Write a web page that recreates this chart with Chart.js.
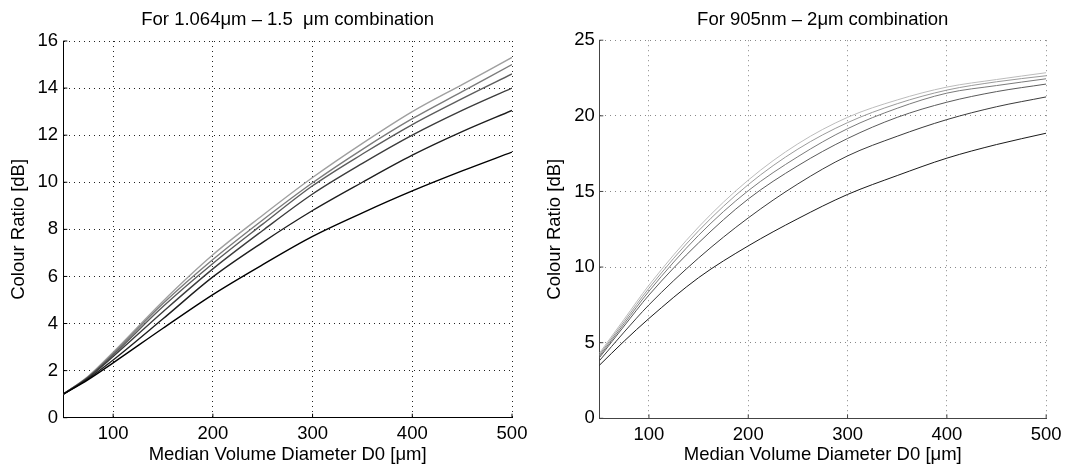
<!DOCTYPE html>
<html>
<head>
<meta charset="utf-8">
<script src="https://cdn.jsdelivr.net/npm/chart.js@4.4.1/dist/chart.umd.min.js"></script>
<style>
  html, body { margin: 0; padding: 0; background: #fff; }
  #wrap { position: relative; width: 1067px; height: 467px; overflow: hidden; }
  .box { position: absolute; top: 0; height: 467px; }
  #left-box { left: 0; width: 540px; }
  #right-box { left: 540px; width: 527px; }
</style>
</head>
<body>
<div id="wrap">
  <div class="box" id="left-box"><canvas id="ratio_1064" width="540" height="467"></canvas></div>
  <div class="box" id="right-box"><canvas id="ratio_905" width="527" height="467"></canvas></div>
</div>
<script>
// median volume diameter D0 [um]
const diameters = [50, 75, 100, 150, 200, 250, 300, 350, 400, 450, 500];
const xTicks = [100, 200, 300, 400, 500];

// 1.064um - 1.5um colour ratio [dB], darkest curve first
const ratio1064A = [1, 1.62, 2.33, 3.8, 5.23, 6.5, 7.7, 8.7, 9.63, 10.48, 11.28];
const ratio1064B = [1, 1.66, 2.45, 4.2, 5.98, 7.45, 8.8, 10.0, 11.15, 12.15, 13.05];
const ratio1064C = [1, 1.7, 2.6, 4.5, 6.32, 7.95, 9.5, 10.8, 12.0, 13.05, 14.0];
const ratio1064D = [1, 1.72, 2.67, 4.72, 6.55, 8.22, 9.85, 11.2, 12.45, 13.55, 14.6];
const ratio1064E = [1, 1.74, 2.73, 4.85, 6.72, 8.4, 9.98, 11.4, 12.7, 13.85, 15.0];
const ratio1064F = [1, 1.76, 2.78, 4.95, 6.92, 8.6, 10.2, 11.65, 13.0, 14.15, 15.3];

// 905nm - 2um colour ratio [dB], darkest curve first
const ratio905A = [3.5, 5.1, 6.6, 9.3, 11.4, 13.2, 14.8, 16.05, 17.2, 18.1, 18.85];
const ratio905B = [3.8, 5.7, 7.5, 10.6, 13.25, 15.5, 17.35, 18.65, 19.75, 20.6, 21.25];
const ratio905C = [4.0, 6.1, 8.15, 11.6, 14.5, 16.7, 18.5, 19.9, 20.9, 21.6, 22.1];
const ratio905D = [4.1, 6.25, 8.4, 12.1, 15.05, 17.3, 19.15, 20.5, 21.5, 22.0, 22.45];
const ratio905E = [4.2, 6.4, 8.6, 12.4, 15.45, 17.8, 19.55, 20.8, 21.7, 22.25, 22.65];
const ratio905F = [4.3, 6.55, 8.8, 12.65, 15.75, 18.15, 19.9, 21.05, 21.9, 22.4, 22.85];

const FONT = "'Liberation Sans', Arial, Helvetica, sans-serif";

// matlab style ticks pointing into the axes
const inwardTicks = {
  id: "inwardTicks",
  afterDatasetsDraw(chart, args, opts) {
    const { ctx, chartArea, scales } = chart;
    ctx.save();
    ctx.strokeStyle = opts.color;
    ctx.lineWidth = 1;
    ctx.beginPath();
    scales.x.ticks.forEach((t) => {
      const px = scales.x.getPixelForValue(t.value);
      ctx.moveTo(px, chartArea.bottom);
      ctx.lineTo(px, chartArea.bottom - 4);
    });
    scales.y.ticks.forEach((t) => {
      const py = scales.y.getPixelForValue(t.value);
      ctx.moveTo(chartArea.left, py);
      ctx.lineTo(chartArea.left + 4, py);
    });
    ctx.stroke();
    ctx.restore();
  },
};

const drawRatioChart = (canvasId, setup) => {
  new Chart(document.getElementById(canvasId), {
    type: "line",
    data: {
      datasets: setup.series.map((values, i) => ({
        data: diameters.map((d, k) => ({ x: d, y: values[k] })),
        borderColor: setup.shades[i],
        borderWidth: setup.lineWidth,
        pointRadius: 0,
        fill: false,
        cubicInterpolationMode: "monotone",
      })),
    },
    options: {
      responsive: false,
      animation: false,
      events: [],
      layout: {
        padding: { left: 0, top: 0, right: setup.padRight, bottom: 0 },
      },
      scales: {
        x: {
          type: "linear",
          min: 50,
          max: 500,
          afterBuildTicks: (scale) => {
            scale.ticks = xTicks.map((v) => ({ value: v }));
          },
          afterFit: (scale) => {
            scale.height = setup.xAxisHeight;
          },
          ticks: {
            color: "#000",
            padding: 5.4,
            maxRotation: 0,
            font: { family: FONT, size: 18.5 },
          },
          grid: { color: setup.gridColor, lineWidth: 1, drawTicks: false },
          border: { display: true, color: setup.axisColor, width: 1, dash: [1, 4] },
          title: {
            display: true,
            text: "Median Volume Diameter D0 [μm]",
            color: "#000",
            padding: { top: 0, bottom: 0.6 },
            font: { family: FONT, size: 18.5 },
          },
        },
        y: {
          type: "linear",
          min: 0,
          max: setup.yMax,
          afterFit: (scale) => {
            scale.width = setup.yAxisWidth;
          },
          ticks: {
            stepSize: setup.yStep,
            color: "#000",
            padding: setup.yTickPad,
            font: { family: FONT, size: 18.5 },
          },
          grid: { color: setup.gridColor, lineWidth: 1, drawTicks: false },
          border: { display: true, color: setup.axisColor, width: 1, dash: [1, 4] },
          title: {
            display: true,
            text: "Colour Ratio [dB]",
            color: "#000",
            padding: { top: setup.yTitlePad, bottom: 0 },
            font: { family: FONT, size: 18.5 },
          },
        },
      },
      plugins: {
        legend: { display: false },
        tooltip: { enabled: false },
        title: {
          display: true,
          text: setup.title,
          fullSize: false,
          color: "#000",
          padding: { top: 9, bottom: setup.titleGap },
          font: { family: FONT, size: 18.5, weight: "normal" },
        },
        inwardTicks: { color: setup.axisColor },
      },
    },
    plugins: [inwardTicks],
  });
};

drawRatioChart("ratio_1064", {
  title: "For 1.064μm – 1.5  μm combination",
  series: [ratio1064A, ratio1064B, ratio1064C, ratio1064D, ratio1064E, ratio1064F],
  shades: ["#000000", "#1e1e1e", "#3c3c3c", "#5c5c5c", "#7c7c7c", "#a0a0a0"],
  lineWidth: 1.4,
  yMax: 16,
  yStep: 2,
  gridColor: "#222",
  axisColor: "#000",
  padRight: 28,
  xAxisHeight: 49.3,
  yAxisWidth: 63.3,
  yTickPad: 5.3,
  yTitlePad: 7.4,
  titleGap: 9.8,
});

drawRatioChart("ratio_905", {
  title: "For 905nm – 2μm combination",
  series: [ratio905A, ratio905B, ratio905C, ratio905D, ratio905E, ratio905F],
  shades: ["#1a1a1a", "#3a3a3a", "#5a5a5a", "#7a7a7a", "#9a9a9a", "#bcbcbc"],
  lineWidth: 1,
  yMax: 25,
  yStep: 5,
  gridColor: "#888",
  axisColor: "#444",
  padRight: 17.7,
  xAxisHeight: 48.7,
  yAxisWidth: 59.3,
  yTickPad: 4.5,
  yTitlePad: 3.9,
  titleGap: 9,
});
</script>
</body>
</html>
